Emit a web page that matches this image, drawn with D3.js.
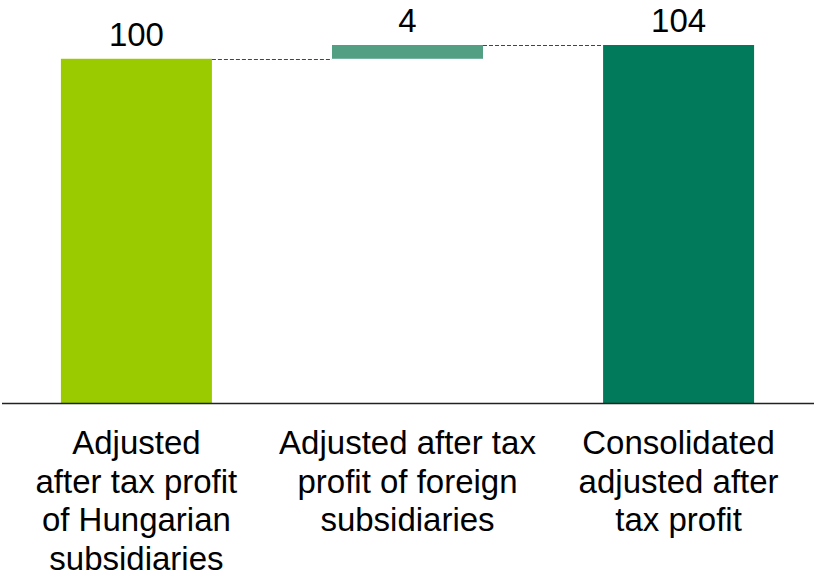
<!DOCTYPE html>
<html>
<head>
<meta charset="utf-8">
<script src="https://cdn.jsdelivr.net/npm/d3@7"></script>
<style>
  body { margin: 0; background: #fff; }
  text { font-family: "Liberation Sans", Arial, sans-serif; fill: #000; }
</style>
</head>
<body>
<div id="chart"></div>
<script>
// waterfall data
const categories = ["hu", "foreign", "total"];
const labelLines = [
   ["Adjusted", "after tax profit", "of Hungarian", "subsidiaries"],
   ["Adjusted after tax", "profit of foreign", "subsidiaries"],
   ["Consolidated", "adjusted after", "tax profit"]
];
const values = [100, 4, 104];
const isTotal = [true, false, true];
const colors = ["#99cb00", "#529f84", "#007a5a"];

const width = 814,
      height = 580,
      baseY = 403

// start/end of each bar
let running = 0
const bars = categories.map((c, i) => {
   let y0, y1
   if (isTotal[i]) { y0 = 0; y1 = values[i]; running = values[i] }
   else { y0 = running; y1 = running + values[i]; running = y1 }
   return {cat: c, y0: y0, y1: y1, value: values[i], color: colors[i], lines: labelLines[i]}
})

const xScale = d3.scaleBand()
                 .domain(categories)
                 .range([1, width])
                 .paddingInner(0.443)
                 .paddingOuter(0.221);

const yScale = d3.scaleLinear()
                 .domain([0, 104])
                 .range([baseY, 45]);

const svg = d3.select("#chart")
              .append("svg")
              .attr("width", width)
              .attr("height", height);

svg.selectAll("rect.bar")
   .data(bars)
   .enter()
   .append("rect")
   .attr("class", "bar")
   .attr("x", d => xScale(d.cat))
   .attr("y", d => yScale(d.y1))
   .attr("width", xScale.bandwidth())
   .attr("height", d => yScale(d.y0) - yScale(d.y1))
   .attr("fill", d => d.color);

// dashed connectors
svg.selectAll("line.conn")
   .data(bars.slice(0, -1))
   .enter()
   .append("line")
   .attr("class", "conn")
   .attr("x1", d => xScale(d.cat) + xScale.bandwidth())
   .attr("x2", (d, i) => xScale(bars[i + 1].cat))
   .attr("y1", d => Math.round(yScale(d.y1)) + 0.5)
   .attr("y2", d => Math.round(yScale(d.y1)) + 0.5)
   .attr("stroke", "#444")
   .attr("stroke-width", 1)
   .attr("stroke-dasharray", "4,2");

// value labels
svg.selectAll("text.val")
   .data(bars)
   .enter()
   .append("text")
   .attr("class", "val")
   .attr("x", d => xScale(d.cat) + xScale.bandwidth() / 2)
   .attr("y", d => yScale(d.y1) - 13)
   .attr("text-anchor", "middle")
   .style("font-size", "33px")
   .text(d => d.value);

// baseline
svg.append("line")
   .attr("x1", 2)
   .attr("x2", width)
   .attr("y1", baseY + 0.5)
   .attr("y2", baseY + 0.5)
   .attr("stroke", "#222")
   .attr("stroke-width", 1.5);

// category labels
const cat = svg.selectAll("text.cat")
   .data(bars)
   .enter()
   .append("text")
   .attr("class", "cat")
   .attr("text-anchor", "middle")
   .style("font-size", "33px");

cat.selectAll("tspan")
   .data(d => d.lines.map(l => ({line: l, cat: d.cat})))
   .enter()
   .append("tspan")
   .attr("x", d => xScale(d.cat) + xScale.bandwidth() / 2)
   .attr("y", (d, i) => 454 + i * 38.5)
   .text(d => d.line);
</script>
</body>
</html>
